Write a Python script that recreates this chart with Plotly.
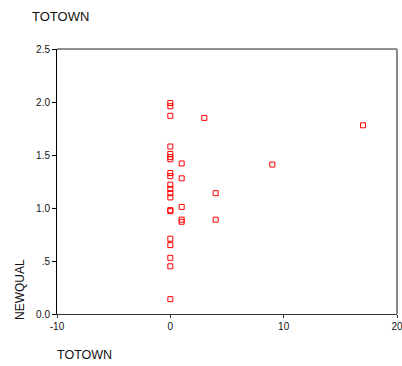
import plotly.graph_objects as go

# TOTOWN values and NEWQUAL values
totown = [0]*20 + [1]*5 + [3] + [4]*2 + [9] + [17]
newqual = [1.99, 1.96, 1.87, 1.58, 1.51, 1.48, 1.46, 1.33, 1.30, 1.22,
           1.18, 1.14, 1.10, 0.98, 0.97, 0.71, 0.65, 0.53, 0.45, 0.14,
           1.42, 1.28, 1.01, 0.89, 0.87,
           1.85,
           1.14, 0.89,
           1.41,
           1.78]

x_ticks = [-10, 0, 10, 20]
x_labels = ["-10", "0", "10", "20"]
y_ticks = [0.0, 0.5, 1.0, 1.5, 2.0, 2.5]
y_labels = ["0.0", ".5", "1.0", "1.5", "2.0", "2.5"]

font_family = "Liberation Sans, Arial, sans-serif"

fig = go.Figure()
fig.add_trace(go.Scatter(
    x=totown, y=newqual, mode="markers",
    marker=dict(symbol="square-open", size=5, color="#ff0000",
                line=dict(width=1, color="#ff0000")),
    hoverinfo="skip", showlegend=False,
))

fig.update_layout(
    width=402, height=366, autosize=False,
    margin=dict(l=57, r=5, t=49, b=52, autoexpand=False),
    plot_bgcolor="white", paper_bgcolor="white",
    font=dict(family=font_family, color="#111111"),
    xaxis=dict(range=[-10, 20], tickvals=x_ticks, ticktext=x_labels,
               showgrid=False, zeroline=False, showline=True, automargin=False,
               ticklabeloverflow="allow",
               linecolor="#333333", linewidth=1,
               ticks="outside", ticklen=3, tickcolor="#333333",
               tickfont=dict(size=10, family=font_family)),
    yaxis=dict(range=[0, 2.5], tickvals=y_ticks, ticktext=y_labels,
               showgrid=False, zeroline=False, showline=True, automargin=False,
               ticklabeloverflow="allow",
               linecolor="#000000", linewidth=1,
               ticks="outside", ticklen=4, tickcolor="#000000",
               tickfont=dict(size=10, family=font_family)),
    shapes=[
        dict(type="line", xref="paper", yref="paper", x0=0, x1=1, y0=1, y1=1,
             line=dict(color="#222222", width=1)),
        dict(type="line", xref="paper", yref="paper", x0=1, x1=1, y0=0, y1=1,
             line=dict(color="#888888", width=2)),
    ],
    annotations=[
        dict(text="TOTOWN", xref="paper", yref="paper", x=-27/340, y=(314-16)/265,
             xanchor="left", yanchor="middle", showarrow=False,
             font=dict(size=13, family=font_family)),
        dict(text="TOTOWN", xref="paper", yref="paper", x=-2/340, y=-(355-314)/265,
             xanchor="left", yanchor="middle", showarrow=False,
             font=dict(size=12.5, family=font_family)),
        dict(text="NEWQUAL", xref="paper", yref="paper", x=-(57-20)/340, y=(314-290)/265,
             xanchor="center", yanchor="middle", textangle=-90, showarrow=False,
             font=dict(size=12, family=font_family)),
    ],
)

fig.write_html("out.html")
